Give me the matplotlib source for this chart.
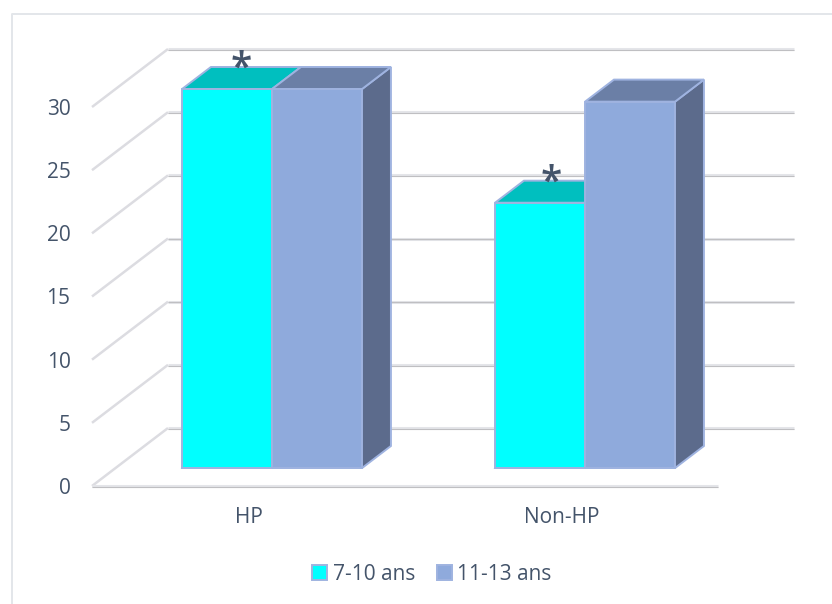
import matplotlib
matplotlib.use("Agg")
import matplotlib.pyplot as plt
from matplotlib.patches import Polygon, Rectangle
from matplotlib.lines import Line2D
from matplotlib.transforms import ScaledTranslation

categories = ["HP", "Non-HP"]
series_names = ["7-10 ans", "11-13 ans"]
values_young = [30, 21]
values_old = [30, 29]
y_ticks = [0, 5, 10, 15, 20, 25, 30]
starred = [30, 21]

W, H = 832, 604
TEXT = "#44546a"
plt.rcParams["font.family"] = ["Open Sans", "DejaVu Sans"]

fig = plt.figure(figsize=(W / 100, H / 100), dpi=100)
# front plane of the 3D box in pixels
L, R, T, B = 92, 718, 107, 486
ax = fig.add_axes([L / W, 1 - B / H, (R - L) / W, (B - T) / H])
ax.set_xlim(-0.5, 1.5)
ax.set_ylim(0, 30)
for s in ax.spines.values():
    s.set_visible(False)
ax.patch.set_alpha(0)
ax.set_xticks(range(len(categories)), categories)
ax.set_yticks(y_ticks)
ax.tick_params(length=0, labelcolor=TEXT, labelsize=15)
ax.tick_params(axis="y", pad=15.5)
ax.tick_params(axis="x", pad=15)

PXX = 2 / (R - L)
PXY = 30 / (B - T)
DX = 76 * PXX  # full depth of the box
DY = 58 * PXY


def P(x, v, d=0.0):
    return (x + d * DX, v + d * DY)


def wall_line(pts, z=1, under="#e4e5e9", over="#bfbfc2"):
    xs, ys = zip(*pts)
    ax.plot(xs, ys, color=under, lw=2.2, clip_on=False, zorder=z, solid_capstyle="butt")
    ax.plot(xs, [y - 0.055 for y in ys], color=over, lw=0.8, clip_on=False, zorder=z + 0.1,
            solid_capstyle="butt")


for v in y_ticks:
    ax.plot(*zip(P(-0.5, v, 0), P(-0.5, v, 1)), color="#dcdce1", lw=1.8, clip_on=False, zorder=1,
            solid_capstyle="butt")
    wall_line([P(-0.5, v, 1), P(1.5, v, 1)])
wall_line([P(-0.5, 0, 0), P(1.5, 0, 0)])

D0, D1 = 0.31, 0.69
BW = 90 * PXX
EDGE = "#9fb3e0"


def box(x0, x1, v, front, top, side, z):
    common = dict(edgecolor=EDGE, lw=1.4, joinstyle="miter", clip_on=False, zorder=z)
    ax.add_patch(Polygon([P(x0, 0, D0), P(x1, 0, D0), P(x1, 0, D1), P(x1, v, D1), P(x1, v, D0)],
                         facecolor=side, **common))
    ax.add_patch(Polygon([P(x0, v, D0), P(x1, v, D0), P(x1, v, D1), P(x0, v, D1)],
                         facecolor=top, **common))
    ax.add_patch(Polygon([P(x0, 0, D0), P(x1, 0, D0), P(x1, v, D0), P(x0, v, D0)],
                         facecolor=front, **common))


for i in range(len(categories)):
    box(i - BW, i, values_young[i], "#00ffff", "#00bfbf", "#00bfbf", 3 + i)
    box(i, i + BW, values_old[i], "#8faadc", "#6b7fa6", "#5c6b8c", 3.5 + i)
    shift = ScaledTranslation((-3 * i) / 100, 8 / 100, fig.dpi_scale_trans)
    ax.text(*P(i - BW / 2, starred[i], 0.5), "*", fontsize=28, color=TEXT, ha="center",
            va="center", clip_on=False, zorder=8, fontweight="semibold",
            transform=ax.transData + shift)

handles = [Rectangle((0, 0), 1, 1, facecolor="#00ffff", edgecolor=EDGE, lw=1.4),
           Rectangle((0, 0), 1, 1, facecolor="#8faadc", edgecolor=EDGE, lw=1.4)]
fig.legend(handles, series_names, loc="center", bbox_to_anchor=(432 / W, 1 - 574 / H), ncol=2,
           frameon=False, fontsize=15, labelcolor=TEXT, handlelength=0.7, handleheight=0.7,
           handletextpad=0.28, columnspacing=1.05, borderpad=0)

# chart frame
fig.add_artist(Line2D([12 / W, 12 / W, 1], [0, 1 - 14 / H, 1 - 14 / H],
                      color="#e3e6ea", lw=1.4))
fig.savefig("out.png", dpi=100)
